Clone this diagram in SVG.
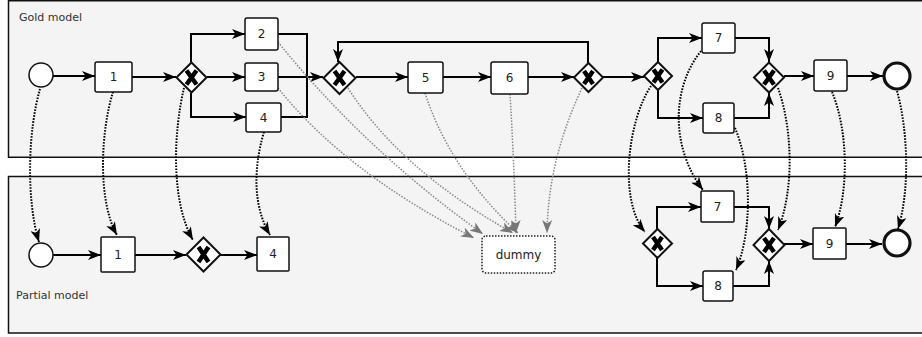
<svg xmlns="http://www.w3.org/2000/svg" width="922" height="337" viewBox="0 0 922 337">
<defs>
<style>
.pool{fill:#f4f4f4;stroke:#111;stroke-width:1.5}
.plabel{font-family:"DejaVu Sans",sans-serif;font-size:11px;fill:#333}
.task rect{fill:#fff;stroke:#111;stroke-width:1.5}
.task text,.dummy text{font-family:"DejaVu Sans",sans-serif;font-size:12px;fill:#222;text-anchor:middle;dominant-baseline:central}
.gw path.d{fill:#fff;stroke:#111;stroke-width:2}
.gw path.x{stroke:#000;stroke-width:4.5;fill:none}
.ev{fill:#fff;stroke:#111;stroke-width:1.5}
.ev.end{stroke-width:3.2}
.flow{fill:none;stroke:#000;stroke-width:2}
.map{fill:none;stroke:#000;stroke-width:2;stroke-dasharray:1.6 1.4}
.dmap{fill:none;stroke:#888;stroke-width:1.5;stroke-dasharray:1.5 1.5}
</style>
<marker id="a" markerUnits="userSpaceOnUse" viewBox="0 0 13 10" refX="13" refY="5" markerWidth="13" markerHeight="10" orient="auto">
<path d="M0,0 L13,5 L0,10 L3.5,5 z" fill="#000"/>
</marker>
<marker id="g" markerUnits="userSpaceOnUse" viewBox="0 0 13 10" refX="13" refY="5" markerWidth="13" markerHeight="10" orient="auto">
<path d="M0,0 L13,5 L0,10 L3.5,5 z" fill="#777"/>
</marker>
</defs>

<g id="gold-pool">
<rect class="pool" x="8.5" y="0.75" width="920" height="156.5"/>
<text class="plabel" x="19" y="21">Gold model</text>
</g>
<g id="partial-pool">
<rect class="pool" x="8.5" y="176.5" width="920" height="156.5"/>
<text class="plabel" x="16" y="299">Partial model</text>
</g>

<g id="connectors">
<!-- gold flows -->
<path class="flow" d="M53,76 H95" marker-end="url(#a)"/>
<path class="flow" d="M132,77 H176" marker-end="url(#a)"/>
<path class="flow" d="M191,62 V34 H245" marker-end="url(#a)"/>
<path class="flow" d="M207,77 H245" marker-end="url(#a)"/>
<path class="flow" d="M191,93 V117 H246" marker-end="url(#a)"/>
<path class="flow" d="M278,34 H307 V117 H281"/>
<path class="flow" d="M278,77 H323" marker-end="url(#a)"/>
<path class="flow" d="M356,77 H408" marker-end="url(#a)"/>
<path class="flow" d="M443,77 H491" marker-end="url(#a)"/>
<path class="flow" d="M528,77 H574" marker-end="url(#a)"/>
<path class="flow" d="M588,63 V42 H338 V62" marker-end="url(#a)"/>
<path class="flow" d="M603,77 H644" marker-end="url(#a)"/>
<path class="flow" d="M658,62 V38 H702" marker-end="url(#a)"/>
<path class="flow" d="M658,90 V118 H703" marker-end="url(#a)"/>
<path class="flow" d="M735,38 H769 V62" marker-end="url(#a)"/>
<path class="flow" d="M734,118 H769 V93" marker-end="url(#a)"/>
<path class="flow" d="M784,76 H814" marker-end="url(#a)"/>
<path class="flow" d="M847,76 H883" marker-end="url(#a)"/>
<!-- partial flows -->
<path class="flow" d="M53,255 H101" marker-end="url(#a)"/>
<path class="flow" d="M135,255 H186" marker-end="url(#a)"/>
<path class="flow" d="M220,255 H257" marker-end="url(#a)"/>
<path class="flow" d="M657,229 V207 H701" marker-end="url(#a)"/>
<path class="flow" d="M657,258 V286 H703" marker-end="url(#a)"/>
<path class="flow" d="M734,207 H769 V229" marker-end="url(#a)"/>
<path class="flow" d="M733,286 H769 V261" marker-end="url(#a)"/>
<path class="flow" d="M784,244 H813" marker-end="url(#a)"/>
<path class="flow" d="M846,244 H882" marker-end="url(#a)"/>
<!-- mapping arcs -->
<path class="map" d="M40,89 C 28,130 26,200 39,242" marker-end="url(#a)"/>
<path class="map" d="M113,92 C 101,130 97,200 117,235" marker-end="url(#a)"/>
<path class="map" d="M184,88 C 174,130 170,200 193,240" marker-end="url(#a)"/>
<path class="map" d="M264,132 C 254,165 252,205 270,235" marker-end="url(#a)"/>
<path class="map" d="M651,86 C 628,120 618,200 645,232" marker-end="url(#a)"/>
<path class="map" d="M701,51 C 670,90 672,150 703,190" marker-end="url(#a)"/>
<path class="map" d="M735,128 C 751,165 753,230 736,270" marker-end="url(#a)"/>
<path class="map" d="M778,88 C 793,130 794,190 778,230" marker-end="url(#a)"/>
<path class="map" d="M832,92 C 848,130 849,190 835,227" marker-end="url(#a)"/>
<path class="map" d="M897,91 C 908,130 910,190 898,229" marker-end="url(#a)"/>
<!-- dummy mappings -->
<path class="dmap" d="M278,42 Q 365,150 483,234" marker-end="url(#g)"/>
<path class="dmap" d="M278,88 Q 345,172 474,238" marker-end="url(#g)"/>
<path class="dmap" d="M348,88 Q 400,170 513,233" marker-end="url(#g)"/>
<path class="dmap" d="M425,93 Q 450,170 518,233" marker-end="url(#g)"/>
<path class="dmap" d="M510,94 Q 514,160 516,233" marker-end="url(#g)"/>
<path class="dmap" d="M582,88 Q 548,160 547,233" marker-end="url(#g)"/>
</g>

<!-- gold nodes -->
<g id="g-start"><circle class="ev" cx="41" cy="75" r="12"/></g>
<g id="g-t1" class="task"><rect x="95" y="62" width="37" height="30" rx="2"/><text x="113.5" y="77">1</text></g>
<g id="g-gw1" class="gw" transform="translate(191.5,77.5)"><path class="d" d="M0,-15 L15,0 L0,15 L-15,0 z"/><path class="x" d="M-5,-7 L5,7 M5,-7 L-5,7"/></g>
<g id="g-t2" class="task"><rect x="245" y="18" width="33" height="32" rx="2"/><text x="261.5" y="34">2</text></g>
<g id="g-t3" class="task"><rect x="245" y="63" width="33" height="28" rx="2"/><text x="261.5" y="77">3</text></g>
<g id="g-t4" class="task"><rect x="246" y="103" width="35" height="29" rx="2"/><text x="263.5" y="117.5">4</text></g>
<g id="g-gw2" class="gw" transform="translate(339.5,78)"><path class="d" d="M0,-16 L16,0 L0,16 L-16,0 z"/><path class="x" d="M-5,-7 L5,7 M5,-7 L-5,7"/></g>
<g id="g-t5" class="task"><rect x="408" y="62" width="35" height="31" rx="2"/><text x="425.5" y="77.5">5</text></g>
<g id="g-t6" class="task"><rect x="491" y="62" width="37" height="32" rx="2"/><text x="509.5" y="78">6</text></g>
<g id="g-gw3" class="gw" transform="translate(588.5,77.5)"><path class="d" d="M0,-14.5 L14.5,0 L0,14.5 L-14.5,0 z"/><path class="x" d="M-4.5,-6.5 L4.5,6.5 M4.5,-6.5 L-4.5,6.5"/></g>
<g id="g-gw4" class="gw" transform="translate(658,76)"><path class="d" d="M0,-14 L14,0 L0,14 L-14,0 z"/><path class="x" d="M-4.5,-6.5 L4.5,6.5 M4.5,-6.5 L-4.5,6.5"/></g>
<g id="g-t7" class="task"><rect x="702" y="23" width="33" height="30" rx="2"/><text x="718.5" y="38">7</text></g>
<g id="g-t8" class="task"><rect x="703" y="103" width="31" height="30" rx="2"/><text x="718.5" y="118">8</text></g>
<g id="g-gw5" class="gw" transform="translate(769,77.5)"><path class="d" d="M0,-15 L15,0 L0,15 L-15,0 z"/><path class="x" d="M-5,-7 L5,7 M5,-7 L-5,7"/></g>
<g id="g-t9" class="task"><rect x="814" y="60" width="33" height="31" rx="2"/><text x="830.5" y="75.5">9</text></g>
<g id="g-end"><circle class="ev end" cx="897" cy="76" r="13"/></g>

<!-- partial nodes -->
<g id="p-start"><circle class="ev" cx="41" cy="255" r="12"/></g>
<g id="p-t1" class="task"><rect x="101" y="237" width="34" height="35" rx="1"/><text x="118" y="254.5">1</text></g>
<g id="p-gw" class="gw" transform="translate(203.5,254.5)"><path class="d" d="M0,-17 L17,0 L0,17 L-17,0 z"/><path class="x" d="M-5,-7.5 L5,7.5 M5,-7.5 L-5,7.5"/></g>
<g id="p-t4" class="task"><rect x="257" y="237" width="32" height="34" rx="1"/><text x="273" y="254">4</text></g>
<g id="p-dummy" class="dummy"><rect x="482" y="236" width="73" height="37" rx="4" fill="#fff" stroke="#222" stroke-width="1.5" stroke-dasharray="1.5 1.5"/><text x="518.5" y="254.5">dummy</text></g>
<g id="p-gw-split" class="gw" transform="translate(657.5,243.5)"><path class="d" d="M0,-14.5 L14.5,0 L0,14.5 L-14.5,0 z"/><path class="x" d="M-4.5,-6.5 L4.5,6.5 M4.5,-6.5 L-4.5,6.5"/></g>
<g id="p-t7" class="task"><rect x="701" y="191" width="33" height="31" rx="1"/><text x="717.5" y="206.5">7</text></g>
<g id="p-t8" class="task"><rect x="703" y="271" width="30" height="30" rx="2"/><text x="718" y="286">8</text></g>
<g id="p-gw-join" class="gw" transform="translate(769,245)"><path class="d" d="M0,-16 L15.5,0 L0,16 L-15.5,0 z"/><path class="x" d="M-5,-7 L5,7 M5,-7 L-5,7"/></g>
<g id="p-t9" class="task"><rect x="813" y="228" width="33" height="31" rx="1"/><text x="829.5" y="243.5">9</text></g>
<g id="p-end"><circle class="ev end" cx="897" cy="243" r="13"/></g>
</svg>
